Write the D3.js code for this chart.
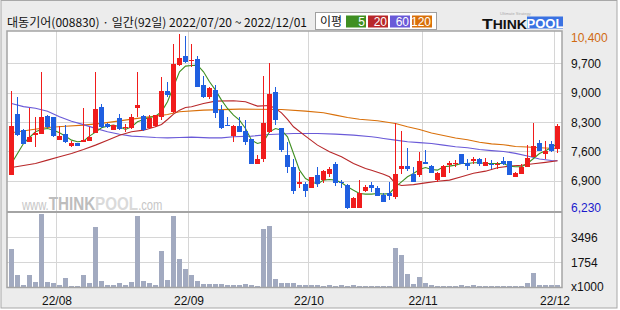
<!DOCTYPE html>
<html>
<head>
<meta charset="utf-8">
<script src="https://cdn.jsdelivr.net/npm/d3@7"></script>
<style>
  body { margin: 0; background: #fff; }
  svg { display: block; font-family: "Liberation Sans", Arial, sans-serif; }
</style>
</head>
<body>
<svg id="chart" width="620" height="310"></svg>
<script>
// daily candles 2022/07/20 ~ 2022/12/01 (92 trading days)
let open = [7050,8490,8120,7820,8000,8010,8440,8410,7880,8010, 7740,7800,7830,7850,8050,8650,8250,8110,8390,8160,
  8160,8640,8440,8170,8200,8430,9040,8550,9660,9870, 9770,9800,9180,8900,9060,8590,8240,7970,8200,8090,
  7890,7310,7430,8070,9020,8150,7510,7230,6830,6820, 6730,7040,6920,7060,7300,6880,6800,6260,6260,6660,
  6800,6720,6560,6600,6520,7190,7260,7060,7040,7350, 7250,6920,7000,7270,7300,7540,7330,7370,7430,7260,
  7310,7290,7370,7370,6980,7060,7230,7460,7810,7550, 7770,7670]
let high = [9040,8900,8140,8640,8420,9490,8470,8430,8200,8230, 7850,7810,8640,8190,9490,8730,8270,8240,8490,8250,
  8490,9490,8470,8480,8470,9380,9250,10160,10400,10350, 10160,9870,9400,9140,9180,8700,8410,8230,8410,8350,
  7890,7510,9400,9710,9140,8150,7830,7430,7120,6880, 7000,7230,7150,7230,7340,6920,6820,6520,6920,6800,
  6880,6770,6600,6860,8270,8090,7690,7230,7590,7630, 7270,7120,7270,7380,7390,7540,7430,7470,7450,7440,
  7390,7350,7470,7370,7120,7300,7750,8270,7870,7850, 7850,8250]
let low = [7050,7960,7770,7820,7700,8010,8170,7950,7880,7810, 7700,7730,7830,7850,8050,8170,8170,8110,8120,8070,
  8140,8410,8090,8140,8190,8350,8900,8510,9640,9710, 9620,9140,8880,8860,8400,8140,8200,7830,8070,7750,
  7310,7310,7350,8050,8230,7580,7090,6580,6720,6520, 6730,6760,6840,7000,6780,6740,6230,6260,6260,6640,
  6640,6540,6400,6440,6460,7060,7140,6880,6980,7300, 7090,6880,7000,7090,7230,7310,7150,7310,7250,7260,
  7190,7190,7270,7040,6980,7060,7230,7460,7620,7420, 7590,7570]
let close = [8200,7990,7770,7950,8050,8420,8190,7960,7980,7830, 7800,7740,7870,7940,8610,8190,8190,8220,8140,8190,
  8410,8700,8110,8400,8470,9040,8940,9680,9840,9730, 9790,9140,8900,9120,8520,8160,8210,8200,8070,7830,
  7310,7430,8290,8970,8350,7630,7230,6660,6870,6660, 7000,6820,7130,7170,6850,6840,6260,6480,6600,6760,
  6720,6540,6400,6540,7060,7260,7190,6880,7370,7300, 7090,7080,7250,7330,7330,7310,7250,7430,7300,7350,
  7270,7310,7310,7040,7090,7220,7450,7730,7620,7620, 7620,8200]
// volume, x1000 shares
let volume = [2645,851,161,851,391,5060,391,322,161,644, 92,92,851,322,4186,460,184,184,322,184,
  391,4922,460,322,184,2530,506,4922,1955,1265, 851,460,253,253,253,253,184,184,184,253,
  184,92,4025,4255,575,322,322,322,184,184, 184,184,138,184,138,184,138,184,138,138,
  138,138,138,138,2737,2277,966,230,736,322, 184,138,138,138,138,184,138,184,138,138,
  138,138,138,138,138,138,322,1012,184,184, 184,184]

// moving averages: [day index, price]
let ma5 = [7313,7552,7790,7933,8069,8124,8148,8108,8045,7965, 7870,7830,7846,7965,8060,8164,8204,8228,8188,8124,
  8188,8307,8363,8411,8442,8546,8784,9142,9500,9635, 9650,9659,9500,9261,9062,8824,8625,8466,8347,8148,
  7870,7790,7830,8069,8148,8108,7949,7552,7154,6956, 6876,6820,6916,6932,6916,6852,6757,6677,6598,6582,
  6582,6598,6582,6598,6757,6876,6995,7075,7170,7218, 7170,7154,7234,7250,7274,7313,7313,7329,7329,7313,
  7313,7313,7313,7250,7234,7234,7313,7433,7552,7615, 7695,7790].map((v, i) => [i, v])
let ma20 = [[0,7218],[2,7266],[4,7313],[6,7393],[8,7473],[10,7552],[12,7647],[14,7751],[16,7870],[18,7989],
  [20,8069],[22,8108],[24,8188],[25,8244],[26,8363],[27,8490],[28,8585],[29,8649],[30,8665],[32,8744],
  [34,8800],[37,8808],[39,8784],[41,8681],[43,8697],[44,8625],[45,8522],[46,8363],[47,8188],[49,7965],
  [51,7751],[53,7592],[55,7473],[57,7313],[59,7194],[60,7154],[62,7059],[63,6995],[64,6836],[65,6789],
  [67,6810],[69,6850],[71,6890],[73,6916],[75,6995],[77,7080],[79,7130],[81,7210],[83,7250],[85,7270],
  [87,7305],[89,7340],[91,7380]]
let ma60 = [[0,8744],[2,8670],[4,8630],[6,8560],[8,8430],[10,8320],[12,8240],[14,8150],[16,8070],[18,8010],
  [20,7965],[22,7949],[24,7933],[26,7925],[28,7933],[30,7941],[33,7925],[35,7925],[37,7949],[40,7965],
  [43,8005],[47,8029],[51,8029],[54,8013],[57,7989],[60,7949],[61,7933],[62,7910],[64,7870],[66,7830],
  [68,7810],[70,7790],[72,7751],[74,7711],[76,7690],[78,7645],[80,7620],[82,7600],[84,7555],[86,7490],
  [88,7420],[90,7385],[91,7377]]
let ma120 = [[0,8045],[3,8110],[6,8170],[9,8200],[12,8228],[15,8270],[18,8330],[21,8390],[24,8442],[26,8482],
  [28,8546],[32,8585],[38,8609],[45,8601],[49,8562],[52,8522],[54,8466],[56,8411],[58,8370],[61,8331],
  [64,8267],[66,8188],[68,8124],[70,8040],[72,7980],[74,7920],[76,7880],[78,7820],[80,7780],[82,7760],
  [84,7720],[86,7705],[88,7690],[91,7671]]

let monthIdx = [8, 30, 50, 69, 91]
let monthLabels = ["22/08", "22/09", "22/10", "22/11", "22/12"]
let priceTicks = [9700, 9000, 8300, 7600, 6900]
let volTicks = [1754, 3496]
let maNames = ["5", "20", "60", "120"]
let maColors = ["#3f8f22", "#b8282a", "#6a5ad8", "#d9700a"]

let svg = d3.select("#chart")
let plotL = 7, plotR = 562, plotT = 31, priceB = 212, volB = 287.5

let x = d3.scaleLinear().domain([0, 92]).range([9, 561])
let y = d3.scaleLinear().domain([6156, 10473]).range([priceB, plotT])
let yv = d3.scaleLinear().domain([0, 5244]).range([volB, 211.5])

// frame
svg.append("rect").attr("x", 1).attr("y", 0.5).attr("width", 616).attr("height", 307.5)
  .attr("fill", "#ececec").attr("stroke", "#a8a8a8")
svg.append("rect").attr("x", plotL).attr("y", plotT).attr("width", plotR - plotL).attr("height", volB - plotT)
  .attr("fill", "#fff")

let grid = svg.append("g").attr("stroke", "#d6d6d6").attr("stroke-width", 1).attr("shape-rendering", "crispEdges")
grid.selectAll(".hp").data(priceTicks).enter().append("line")
  .attr("x1", plotL).attr("x2", plotR)
  .attr("y1", d => Math.round(y(d)) + 0.5).attr("y2", d => Math.round(y(d)) + 0.5)
grid.selectAll(".hv").data(volTicks).enter().append("line")
  .attr("x1", plotL).attr("x2", plotR)
  .attr("y1", d => Math.round(yv(d)) + 0.5).attr("y2", d => Math.round(yv(d)) + 0.5)
grid.selectAll(".vx").data(monthIdx).enter().append("line")
  .attr("x1", d => x(d) - 0.5).attr("x2", d => x(d) - 0.5)
  .attr("y1", plotT).attr("y2", volB)

// watermark: natural layout, squeezed horizontally by the group transform
let wm = svg.append("g").attr("transform", "translate(22,210) scale(0.8,1)")
  .append("text").attr("x", 0).attr("y", 0)
wm.append("tspan").attr("font-size", 14).attr("fill", "#c6c6c6").text("www.")
wm.append("tspan").attr("font-size", 19).attr("font-weight", "bold").attr("fill", "#bdbdbd").text("THINK")
wm.append("tspan").attr("font-size", 19).attr("font-weight", "bold").attr("fill", "#dadada").text("POOL")
wm.append("tspan").attr("font-size", 14).attr("fill", "#c6c6c6").text(".com")

// moving averages
let line = d3.line().x(d => x(d[0]) + 2.5).y(d => y(d[1]))
let maData = [ma5, ma20, ma60, ma120]
svg.append("g").selectAll("path").data(maData.slice().reverse()).enter().append("path")
  .attr("d", line)
  .attr("fill", "none")
  .attr("stroke", (d, i) => maColors[3 - i])
  .attr("stroke-width", 1.1)

// candles
let days = d3.range(open.length)
let up = i => close[i] >= open[i]
let candle = svg.append("g").attr("shape-rendering", "crispEdges")
candle.selectAll(".wick").data(days).enter().append("line")
  .attr("x1", i => x(i) + 2.5).attr("x2", i => x(i) + 2.5)
  .attr("y1", i => y(high[i])).attr("y2", i => y(low[i]))
  .attr("stroke", i => up(i) ? "#f01c1c" : "#1f5fe0")
candle.selectAll(".body").data(days).enter().append("rect")
  .attr("x", i => x(i))
  .attr("width", 5)
  .attr("y", i => y(Math.max(open[i], close[i])))
  .attr("height", i => Math.max(1, Math.abs(y(open[i]) - y(close[i]))))
  .attr("fill", i => up(i) ? "#f01c1c" : "#1f5fe0")

// volume bars
candle.selectAll(".vol").data(days).enter().append("rect")
  .attr("x", i => x(i))
  .attr("width", 5)
  .attr("y", i => yv(volume[i]))
  .attr("height", i => volB - yv(volume[i]))
  .attr("fill", "#a2aac0")

// borders
svg.append("rect").attr("x", plotL).attr("y", plotT).attr("width", plotR - plotL).attr("height", volB - plotT)
  .attr("fill", "none").attr("stroke", "#a4a4a4").attr("stroke-width", 1.5)
svg.append("line").attr("x1", plotL).attr("x2", plotR).attr("y1", priceB).attr("y2", priceB)
  .attr("stroke", "#a4a4a4").attr("stroke-width", 2)

// right axis labels
let fmt = d3.format(",")
let axis = svg.append("g").attr("font-size", 12)
axis.selectAll(".pl").data(priceTicks).enter().append("text")
  .attr("x", 571).attr("y", d => y(d) + 4.5).attr("fill", "#111").text(d => fmt(d))
let maxHigh = d3.max(high), minLow = d3.min(low)
axis.append("text").attr("x", 571).attr("y", Math.max(y(maxHigh), 37) + 4.5).attr("fill", "#d06a10").text(fmt(maxHigh))
axis.append("text").attr("x", 571).attr("y", Math.min(y(minLow), 207) + 4.5).attr("fill", "#1a1acc").text(fmt(minLow))
axis.selectAll(".vl").data(volTicks).enter().append("text")
  .attr("x", 571).attr("y", d => yv(d) + 5).attr("fill", "#111").text(d => d)
axis.append("text").attr("x", 571).attr("y", volB + 3).attr("fill", "#111").text("x1000")

// month labels
axis.selectAll(".ml").data(monthIdx).enter().append("text")
  .attr("x", d => x(d)).attr("y", 305).attr("text-anchor", "middle").attr("fill", "#111")
  .text((d, i) => monthLabels[i])

// title
svg.append("text").attr("x", 7).attr("y", 27)
  .attr("font-family", "'Noto Sans CJK KR', sans-serif").attr("font-size", 12).attr("fill", "#111")
  .attr("textLength", 300).attr("lengthAdjust", "spacingAndGlyphs")
  .text("대동기어(008830) · 일간(92일) 2022/07/20 ~ 2022/12/01")

// MA legend
let lg = svg.append("g")
lg.append("rect").attr("x", 315.5).attr("y", 12.5).attr("width", 121).attr("height", 17)
  .attr("fill", "#fff").attr("stroke", "#a0a0a0")
lg.append("text").attr("x", 320).attr("y", 26).attr("font-family", "'Noto Sans CJK KR', sans-serif")
  .attr("font-size", 12).attr("fill", "#111").text("이평")
let boxX = [346, 368, 390, 412]
lg.selectAll(".lb").data(maNames).enter().append("rect")
  .attr("x", (d, i) => boxX[i]).attr("y", 15.5).attr("width", 20).attr("height", 12)
  .attr("fill", (d, i) => maColors[i])
lg.selectAll(".lt").data(maNames).enter().append("text")
  .attr("x", (d, i) => boxX[i] + 19).attr("y", 26).attr("text-anchor", "end")
  .attr("font-size", 12).attr("fill", "#fff").text(d => d)

// logo
let logo = svg.append("g")
logo.append("text").attr("x", 482).attr("y", 28.5).attr("font-weight", "bold").attr("fill", "#111")
  .attr("textLength", 45).attr("lengthAdjust", "spacingAndGlyphs")
  .call(t => {
    t.append("tspan").attr("font-size", 15).text("T")
    t.append("tspan").attr("font-size", 12).text("HINK")
  })
logo.append("rect").attr("x", 527).attr("y", 16.5).attr("width", 36).attr("height", 12).attr("fill", "#3a72e2")
logo.append("text").attr("x", 545).attr("y", 28).attr("text-anchor", "middle").attr("font-size", 13)
  .attr("font-weight", "bold").attr("fill", "#fff").text("POOL")
logo.append("text").attr("x", 500).attr("y", 15).attr("font-size", 4).attr("fill", "#aaa").text("Ultimate Strategy")
</script>
</body>
</html>
